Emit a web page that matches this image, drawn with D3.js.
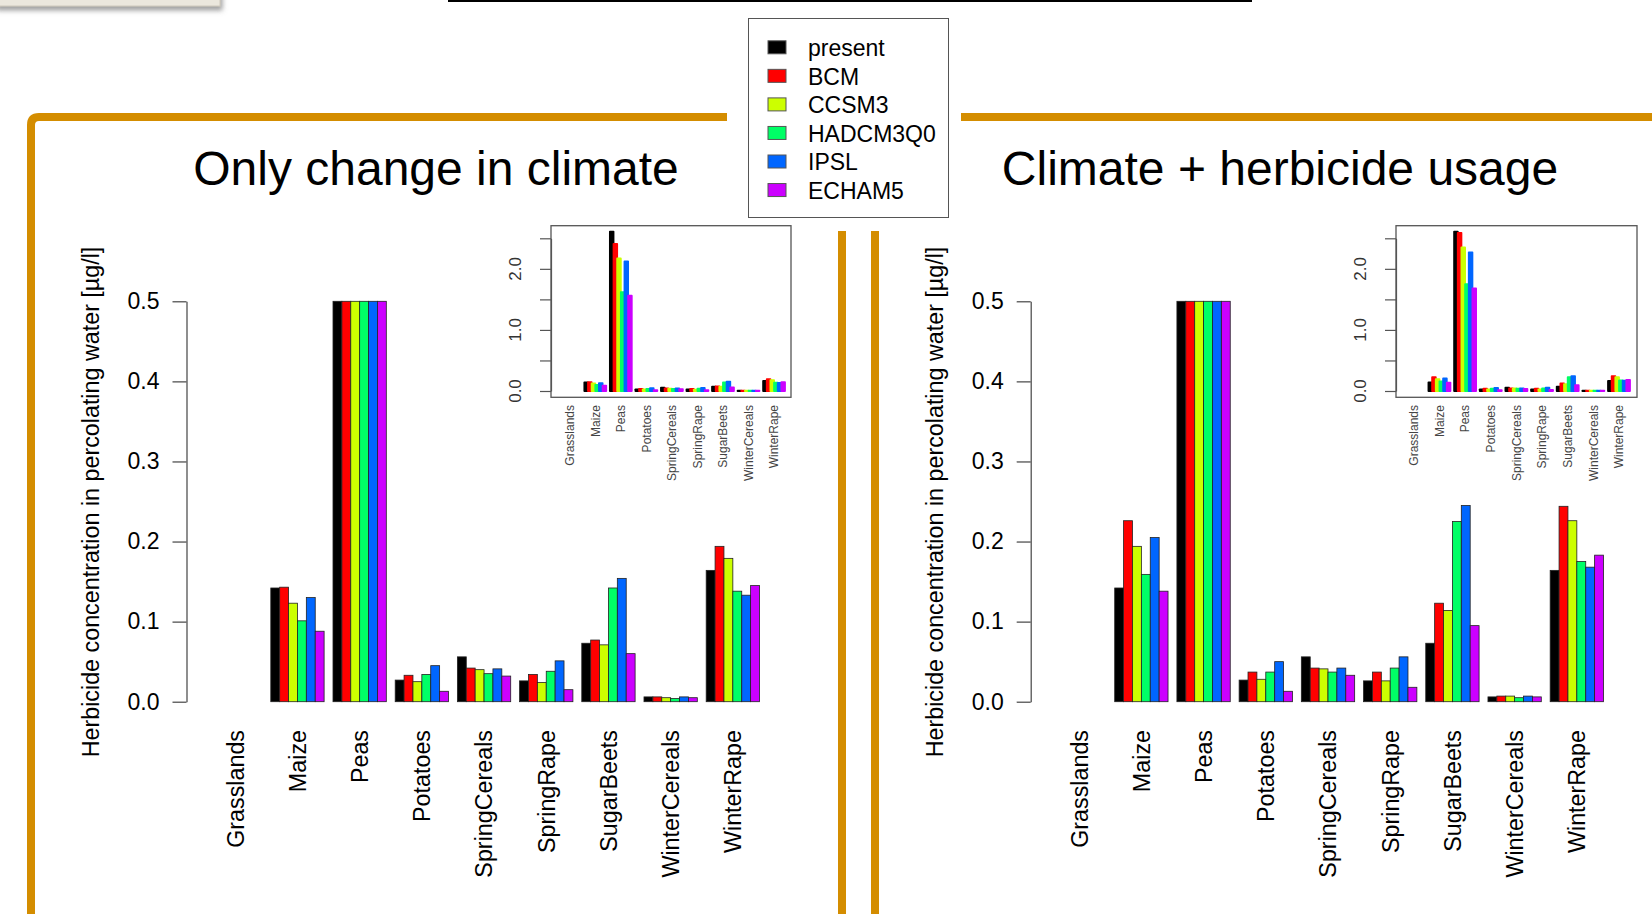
<!DOCTYPE html>
<html><head><meta charset="utf-8">
<script src="https://cdn.jsdelivr.net/npm/d3@7"></script>
<style>html,body{margin:0;padding:0;background:#fff;overflow:hidden}svg{display:block;font-family:"Liberation Sans",Arial,Helvetica,sans-serif}</style>
</head><body><svg id="c" width="1652" height="914"></svg>
<script>
// ---------- data ----------
const categories = ["Grasslands","Maize","Peas","Potatoes","SpringCereals","SpringRape","SugarBeets","WinterCereals","WinterRape"];
const seriesNames = ["present","BCM","CCSM3","HADCM3Q0","IPSL","ECHAM5"];
const seriesColors = ["#000000","#FF0000","#CCFF00","#00FF66","#0066FF","#CC00FF"];

// Panel 1: only change in climate (Grasslands: no value)
const climatePresent  = [null, 0.142, 2.61, 0.027, 0.056, 0.026, 0.073, 0.006, 0.164];
const climateBCM      = [null, 0.143, 2.41, 0.033, 0.042, 0.034, 0.077, 0.006, 0.194];
const climateCCSM3    = [null, 0.123, 2.17, 0.025, 0.040, 0.024, 0.071, 0.005, 0.179];
const climateHADCM3Q0 = [null, 0.101, 1.62, 0.034, 0.035, 0.038, 0.142, 0.004, 0.138];
const climateIPSL     = [null, 0.130, 2.12, 0.045, 0.041, 0.051, 0.154, 0.006, 0.133];
const climateECHAM5   = [null, 0.088, 1.56, 0.013, 0.032, 0.015, 0.060, 0.005, 0.145];

// Panel 2: climate + herbicide usage
const herbPresent  = [null, 0.142, 2.61, 0.027, 0.056, 0.026, 0.073, 0.006, 0.164];
const herbBCM      = [null, 0.226, 2.59, 0.037, 0.042, 0.037, 0.123, 0.007, 0.244];
const herbCCSM3    = [null, 0.194, 2.35, 0.028, 0.041, 0.026, 0.114, 0.007, 0.226];
const herbHADCM3Q0 = [null, 0.159, 1.75, 0.037, 0.037, 0.042, 0.225, 0.005, 0.175];
const herbIPSL     = [null, 0.205, 2.27, 0.050, 0.042, 0.056, 0.245, 0.007, 0.168];
const herbECHAM5   = [null, 0.138, 1.68, 0.013, 0.033, 0.018, 0.095, 0.006, 0.183];

const mainTicks = [0, 0.1, 0.2, 0.3, 0.4, 0.5];
const insetTicks = [0, 0.5, 1, 1.5, 2, 2.5];
const insetTickLabels = [0, 1, 2];
const yTitle = "Herbicide concentration in percolating water [µg/l]";
const panelTitles = ["Only change in climate", "Climate + herbicide usage"];

// ---------- drawing ----------
const svg = d3.select("#c");
const ORANGE = "#d48d00";
const FONT = '"Liberation Sans",Arial,Helvetica,sans-serif';

// top-left grey box with shadow
const defs = svg.append("defs");
const f = defs.append("filter").attr("id","sh").attr("x","-10%").attr("y","-50%").attr("width","130%").attr("height","300%");
f.append("feDropShadow").attr("dx",2).attr("dy",4).attr("stdDeviation",2.5).attr("flood-color","#777").attr("flood-opacity",0.7);
svg.append("rect").attr("x",-5).attr("y",-10).attr("width",225).attr("height",16)
  .attr("fill","#ebe7dd").attr("stroke","#cfc9bc").attr("filter","url(#sh)");

// top black rule (cut-off header)
svg.append("line").attr("x1",448).attr("x2",1252).attr("y1",1).attr("y2",1).attr("stroke","#000").attr("stroke-width",2);

// orange frames
svg.append("path").attr("d","M31,920 L31,125 Q31,117 39,117 L727,117")
  .attr("fill","none").attr("stroke",ORANGE).attr("stroke-width",8);
svg.append("line").attr("x1",961).attr("x2",1660).attr("y1",117).attr("y2",117).attr("stroke",ORANGE).attr("stroke-width",8);
svg.append("line").attr("x1",842).attr("x2",842).attr("y1",231).attr("y2",920).attr("stroke",ORANGE).attr("stroke-width",8);
svg.append("line").attr("x1",875).attr("x2",875).attr("y1",231).attr("y2",920).attr("stroke",ORANGE).attr("stroke-width",8);

function drawPanel(o) {
  const g = svg.append("g");
  const data = o.series;

  // ---- main plot ----
  const x0 = d3.scaleBand().domain(categories).range(o.mainRange).paddingInner(1/7).paddingOuter(0);
  const x1 = d3.scaleBand().domain(seriesNames).range([0, x0.bandwidth()]);
  const y = d3.scaleLinear().domain([0, 0.5]).range([701.7, 301.3]).clamp(true);

  categories.forEach((c, i) => {
    seriesNames.forEach((s, j) => {
      const v = data[j][i];
      if (v == null) return;
      g.append("rect")
        .attr("x", x0(c) + x1(s)).attr("width", x1.bandwidth())
        .attr("y", y(v)).attr("height", y(0) - y(v))
        .attr("fill", seriesColors[j]).attr("stroke", "#222").attr("stroke-width", 0.8);
    });
  });

  const ax = g.append("g").attr("transform", `translate(${o.axisX},0)`)
    .call(d3.axisLeft(y).tickValues(mainTicks).tickFormat(d3.format(".1f")).tickSize(14).tickPadding(13).tickSizeOuter(0));
  ax.attr("font-family", FONT);
  ax.select(".domain").attr("stroke", "#444").attr("stroke-width", 1.2);
  ax.selectAll(".tick line").attr("stroke", "#444").attr("stroke-width", 1.2);
  ax.selectAll(".tick text").attr("font-size", 23).attr("fill", "#000");

  g.append("text").attr("transform", `translate(${o.yTitleX},502) rotate(-90)`)
    .attr("text-anchor", "middle").attr("dy", "0.35em").attr("font-size", 23.3).text(yTitle);

  categories.forEach(c => {
    g.append("text").attr("transform", `translate(${x0(c) + x0.bandwidth()/2},730) rotate(-90)`)
      .attr("text-anchor", "end").attr("dy", "0.36em").attr("font-size", 23.3).text(c);
  });

  g.append("text").attr("x", o.titleX).attr("y", 185).attr("text-anchor", "middle")
    .attr("font-size", 48).text(o.title);

  // ---- inset ----
  const xi0 = d3.scaleBand().domain(categories).range(o.insetRange).paddingInner(1/7).paddingOuter(0);
  const xi1 = d3.scaleBand().domain(seriesNames).range([0, xi0.bandwidth()]);
  const yi = d3.scaleLinear().domain([0, 2.5]).range([391, 238.3]);

  g.append("rect").attr("x", o.insetBox[0]).attr("y", 225.7)
    .attr("width", o.insetBox[1] - o.insetBox[0]).attr("height", 397.3 - 225.7)
    .attr("fill", "#fff").attr("stroke", "#555").attr("stroke-width", 1.3);

  categories.forEach((c, i) => {
    seriesNames.forEach((s, j) => {
      const v = data[j][i];
      if (v == null) return;
      g.append("rect")
        .attr("x", xi0(c) + xi1(s)).attr("width", xi1.bandwidth())
        .attr("y", yi(v)).attr("height", yi(0) - yi(v))
        .attr("fill", seriesColors[j]).attr("stroke", seriesColors[j]).attr("stroke-width", 1.8)
        .attr("stroke-linejoin", "round");
    });
  });

  const iax = g.append("g").attr("transform", `translate(${o.insetBox[0]},0)`)
    .call(d3.axisLeft(yi).tickValues(insetTicks).tickFormat("").tickSize(11).tickSizeOuter(0));
  iax.select(".domain").attr("stroke", "#555").attr("stroke-width", 1.2);
  iax.selectAll(".tick line").attr("stroke", "#555").attr("stroke-width", 1.2);

  insetTickLabels.forEach(v => {
    g.append("text").attr("transform", `translate(${o.insetBox[0] - 36},${yi(v)}) rotate(-90)`)
      .attr("text-anchor", "middle").attr("dy", "0.36em").attr("font-size", 17).attr("fill", "#333")
      .text(d3.format(".1f")(v));
  });

  categories.forEach(c => {
    g.append("text").attr("transform", `translate(${xi0(c) + xi0.bandwidth()/2},405) rotate(-90)`)
      .attr("text-anchor", "end").attr("dy", "0.36em").attr("font-size", 12).attr("fill", "#444").text(c);
  });
}

drawPanel({
  series: [climatePresent, climateBCM, climateCCSM3, climateHADCM3Q0, climateIPSL, climateECHAM5],
  mainRange: [208.6, 759.5], axisX: 186.5, yTitleX: 90.6, titleX: 436, title: panelTitles[0],
  insetRange: [558.8, 785], insetBox: [551, 791]
});
drawPanel({
  series: [herbPresent, herbBCM, herbCCSM3, herbHADCM3Q0, herbIPSL, herbECHAM5],
  mainRange: [1052.5, 1603.5], axisX: 1030.7, yTitleX: 934.5, titleX: 1280, title: panelTitles[1],
  insetRange: [1402.8, 1630], insetBox: [1396, 1637]
});

// ---- legend ----
const lg = svg.append("g");
lg.append("rect").attr("x", 748.5).attr("y", 18.5).attr("width", 200).attr("height", 199)
  .attr("fill", "#fff").attr("stroke", "#555").attr("stroke-width", 1);
seriesNames.forEach((s, j) => {
  const cy = 47.3 + j * 28.55;
  lg.append("rect").attr("x", 768).attr("y", cy - 6.5).attr("width", 18).attr("height", 13)
    .attr("fill", seriesColors[j]).attr("stroke", "#555").attr("stroke-width", 1);
  lg.append("text").attr("x", 808).attr("y", cy).attr("dy", "0.38em").attr("font-size", 23).text(s);
});
</script></body></html>
